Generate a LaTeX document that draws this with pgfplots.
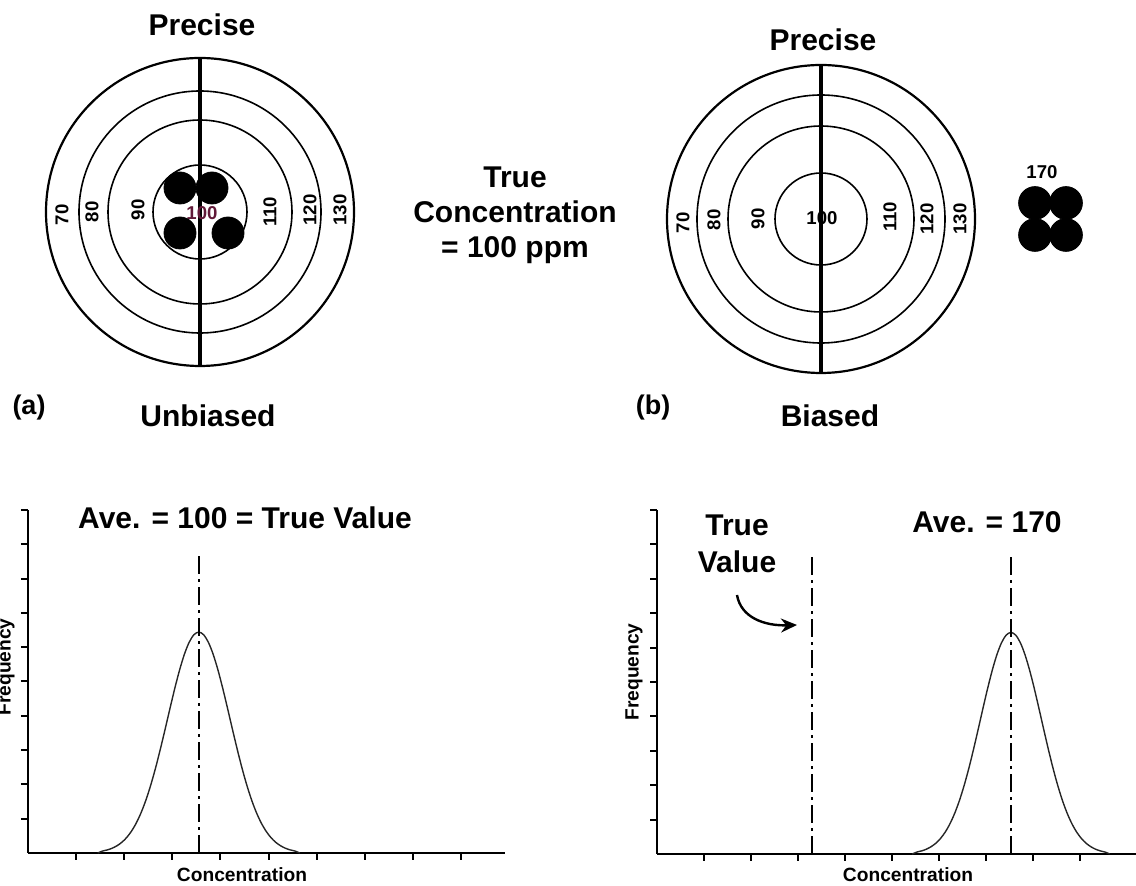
\documentclass[border=0pt]{standalone}
\usepackage{pgfplots}
\pgfplotsset{compat=1.18}
\usepackage{pgfplotstable}
\usepackage{fontspec}
\setmainfont{Liberation Sans}
\usetikzlibrary{arrows.meta}

\newcommand\BigT{\fontsize{15}{17.5}\selectfont\bfseries}
\newcommand\MidT{\fontsize{9.6}{11}\selectfont\bfseries}
\newcommand\SmT{\fontsize{9.3}{11}\selectfont\bfseries}
\definecolor{maroon}{rgb}{0.38,0.1,0.22}

% left distribution (mean = 100 = true value)
\pgfplotstableread{
x y
1.45 0
1.55 0.057
1.65 0.090
1.75 0.139
1.85 0.211
1.95 0.311
2.05 0.449
2.15 0.633
2.25 0.872
2.35 1.172
2.45 1.538
2.55 1.972
2.65 2.469
2.75 3.020
2.85 3.606
2.95 4.206
3.05 4.791
3.15 5.329
3.25 5.789
3.35 6.142
3.45 6.364
3.55 6.440
3.65 6.364
3.75 6.142
3.85 5.789
3.95 5.329
4.05 4.791
4.15 4.206
4.25 3.606
4.35 3.020
4.45 2.469
4.55 1.972
4.65 1.538
4.75 1.172
4.85 0.872
4.95 0.633
5.05 0.449
5.15 0.311
5.25 0.211
5.35 0.139
5.45 0.090
5.55 0.057
5.65 0
}\leftcurve

% right distribution (mean = 170)
\pgfplotstableread{
x y
5.43 0
5.53 0.057
5.63 0.090
5.73 0.139
5.83 0.211
5.93 0.311
6.03 0.449
6.13 0.633
6.23 0.872
6.33 1.172
6.43 1.538
6.53 1.972
6.63 2.469
6.73 3.020
6.83 3.606
6.93 4.206
7.03 4.791
7.13 5.329
7.23 5.789
7.33 6.142
7.43 6.364
7.53 6.440
7.63 6.364
7.73 6.142
7.83 5.789
7.93 5.329
8.03 4.791
8.13 4.206
8.23 3.606
8.33 3.020
8.43 2.469
8.53 1.972
8.63 1.538
8.73 1.172
8.83 0.872
8.93 0.633
9.03 0.449
9.13 0.311
9.23 0.211
9.33 0.139
9.43 0.090
9.53 0.057
9.63 0
}\rightcurve

\pgfplotsset{
  distaxis/.style={
    anchor=south west, scale only axis,
    ymin=0, ymax=10,
    axis x line=bottom, axis y line=left,
    axis line style={-, line width=1pt, black},
    xtick={1,...,9}, ytick={1,...,10},
    xticklabels={}, yticklabels={},
    tick align=outside, major tick length=3.5pt,
    every tick/.style={black, line width=1pt},
    clip=false,
  },
  dashdot/.style={black, line width=0.8pt, dash pattern=on 9pt off 2.5pt on 1.5pt off 2.5pt},
  curve/.style={black!85, line width=0.7pt, smooth},
}

\begin{document}
\begin{tikzpicture}
\useasboundingbox (0,0) rectangle (568pt,443pt);

% ---------- canvas with the two targets and all free text ----------
\begin{axis}[at={(0pt,0pt)}, anchor=south west, scale only axis,
  width=568pt, height=443pt, xmin=0, xmax=1136, ymin=0, ymax=886,
  y dir=reverse, hide axis, clip=false]

% left target
\draw[line width=1.1pt] (axis cs:200,212) circle[radius=77pt];
\draw[line width=0.8pt] (axis cs:200,212) circle[radius=60.5pt];
\draw[line width=0.8pt] (axis cs:200,212) circle[radius=46pt];
\draw[line width=0.8pt] (axis cs:200,212) circle[radius=23.5pt];
\addplot[black, line width=1.7pt] coordinates {(200,59) (200,366)};
\addplot[only marks, mark=*, mark size=8pt, black] coordinates {(180,188) (212,188) (180,233) (228,233)};

% right target
\draw[line width=1.1pt] (axis cs:821,219) circle[radius=77pt];
\draw[line width=0.8pt] (axis cs:821,219) circle[radius=62pt];
\draw[line width=0.8pt] (axis cs:821,219) circle[radius=46.5pt];
\draw[line width=0.8pt] (axis cs:821,219) circle[radius=23pt];
\addplot[black, line width=1.7pt] coordinates {(821,66) (821,373)};
\addplot[only marks, mark=*, mark size=8.2pt, black] coordinates {(1035,203) (1066,203) (1035,235) (1066,235)};

% target labels
\node[rotate=90] at (axis cs:62,215) {\SmT 70};
\node[rotate=90] at (axis cs:92,212) {\SmT 80};
\node[rotate=90] at (axis cs:138,210) {\SmT 90};
\node[text=maroon] at (axis cs:202,213) {\SmT 100};
\node[rotate=90] at (axis cs:270,212) {\SmT 110};
\node[rotate=90] at (axis cs:310,210) {\SmT 120};
\node[rotate=90] at (axis cs:340,210) {\SmT 130};

\node[rotate=90] at (axis cs:683,223) {\SmT 70};
\node[rotate=90] at (axis cs:714,220) {\SmT 80};
\node[rotate=90] at (axis cs:758,219) {\SmT 90};
\node at (axis cs:822,218) {\SmT 100};
\node[rotate=90] at (axis cs:890,217) {\SmT 110};
\node[rotate=90] at (axis cs:927,219) {\SmT 120};
\node[rotate=90] at (axis cs:960,219) {\SmT 130};
\node at (axis cs:1042,172) {\SmT 170};

% big titles
\node at (axis cs:202,25) {\BigT Precise};
\node at (axis cs:823,40) {\BigT Precise};
\node at (axis cs:208,416) {\BigT Unbiased};
\node at (axis cs:830,416) {\BigT Biased};
\node at (axis cs:29,408) {\fontsize{13.5}{16}\selectfont\bfseries (a)};
\node at (axis cs:653,408) {\fontsize{13.5}{16}\selectfont\bfseries (b)};
\node[align=center, font=\BigT] at (axis cs:515,215) {True\\ Concentration\\ = 100 ppm};

% distribution annotations
\node at (axis cs:245,518) {\BigT Ave. = 100 = True Value};
\node at (axis cs:737,525) {\BigT True};
\node at (axis cs:737,562) {\BigT Value};
\node at (axis cs:987,522) {\BigT Ave. = 170};
\draw[line width=1.2pt, -{Stealth[length=8pt, width=7pt]}] (axis cs:737,595) .. controls (axis cs:741,618) and (axis cs:765,626) .. (axis cs:797,625);

\node at (axis cs:242,875) {\MidT Concentration};
\node at (axis cs:908,875) {\MidT Concentration};
\node[rotate=90] at (axis cs:6,667) {\MidT Frequency};
\node[rotate=90] at (axis cs:634,672) {\MidT Frequency};
\end{axis}

% ---------- lower left: unbiased distribution ----------
\begin{axis}[distaxis, at={(14pt,16.5pt)}, width=238.6pt, height=171.5pt, xmin=0, xmax=9.92]
\addplot[curve] table {\leftcurve};
\addplot[dashdot] coordinates {(3.55,0) (3.55,8.75)};
\end{axis}

% ---------- lower right: biased distribution ----------
\begin{axis}[distaxis, at={(328.5pt,16pt)}, width=241.6pt, height=172pt, xmin=0, xmax=10.28]
\addplot[curve] table {\rightcurve};
\addplot[dashdot] coordinates {(3.30,0) (3.30,8.75)};
\addplot[dashdot] coordinates {(7.53,0) (7.53,8.75)};
\end{axis}
\end{tikzpicture}
\end{document}
